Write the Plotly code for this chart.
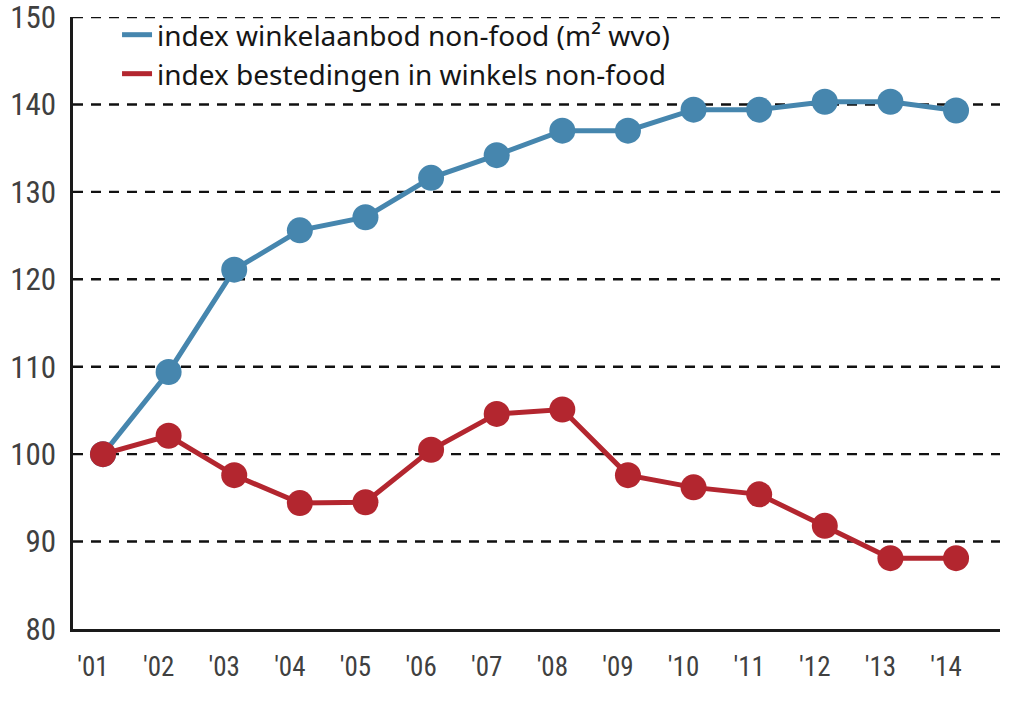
import plotly.graph_objects as go

years = ["'01", "'02", "'03", "'04", "'05", "'06", "'07", "'08", "'09", "'10", "'11", "'12", "'13", "'14"]
aanbod = [100, 109.4, 121.1, 125.6, 127.1, 131.6, 134.2, 137.0, 137.0, 139.4, 139.4, 140.3, 140.3, 139.3]
bestedingen = [100, 102.1, 97.6, 94.4, 94.5, 100.5, 104.6, 105.1, 97.6, 96.2, 95.4, 91.8, 88.1, 88.1]
y_ticks = [80, 90, 100, 110, 120, 130, 140, 150]
names = ["index winkelaanbod non-food (m² wvo)", "index bestedingen in winkels non-food"]

BLUE = "#4686ae"
RED = "#b3262f"
TXT = "#404040"
FONT = "Roboto Condensed, sans-serif"
LEGFONT = "Noto Sans, sans-serif"

xs = list(range(len(years)))

fig = go.Figure()
for vals, col, nm in [(aanbod, BLUE, names[0]), (bestedingen, RED, names[1])]:
    fig.add_trace(go.Scatter(x=xs, y=vals, mode="lines+markers", name=nm, showlegend=False,
                             line=dict(color=col, width=5), marker=dict(size=26, color=col)))
for col, nm, lg in [(BLUE, names[0], "legend"), (RED, names[1], "legend2")]:
    fig.add_trace(go.Scatter(x=[None], y=[None], mode="lines", name=nm, showlegend=True, legend=lg,
                             line=dict(color=col, width=5)))

for v in y_ticks[1:]:
    fig.add_shape(type="line", xref="paper", x0=0, x1=1, yref="y", y0=v, y1=v,
                  line=dict(color="#111111", width=2.4, dash="10px,8px"), layer="below")

leg_common = dict(xanchor="left", yanchor="middle", bgcolor="rgba(0,0,0,0)",
                  font=dict(family=LEGFONT, size=28, color="#161616"), itemwidth=30)

fig.update_layout(
    width=1024, height=702,
    margin=dict(l=73, r=24, t=17, b=73, autoexpand=False),
    paper_bgcolor="white", plot_bgcolor="white",
    font=dict(family=FONT, color=TXT, size=26),
    showlegend=True,
    legend=dict(x=0.0475, y=0.9706, **leg_common),
    legend2=dict(x=0.0475, y=0.9069, **leg_common),
    xaxis=dict(range=[-0.457, 13.67], tickmode="array", tickvals=xs, ticktext=years,
               showgrid=False, zeroline=False, showline=True, linecolor="#1a1a1a", linewidth=2.5,
               ticks="", tickfont=dict(size=27, color=TXT), ticklabelshift=-10, ticklabelstandoff=12,
               automargin=False),
    yaxis=dict(range=[80, 150], tickmode="array", tickvals=y_ticks, ticktext=[str(v) for v in y_ticks],
               showgrid=False, zeroline=False, showline=True, linecolor="#1a1a1a", linewidth=2.5,
               ticks="", tickfont=dict(size=31, color=TXT), ticklabelstandoff=8, automargin=False,
               ticklabeloverflow="allow"),
)

fig.write_html("out.html")
